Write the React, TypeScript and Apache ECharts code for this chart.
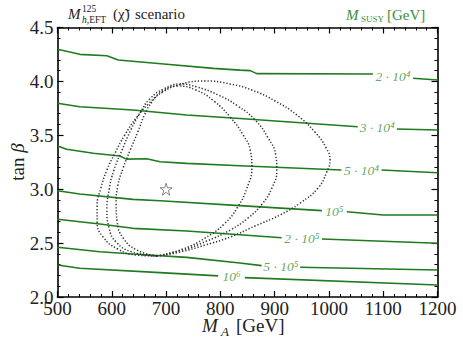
import React, { useEffect, useRef } from "react";
import * as echarts from "echarts";

// ---- axes ----
const X_MIN = 500;
const X_MAX = 1200;
const X_STEP = 100;
const Y_MIN = 2.0;
const Y_MAX = 4.5;
const Y_STEP = 0.5;

// ---- M_SUSY contour levels (labels) ----
const LEVEL_LABELS = ["2 · 10⁴", "3 · 10⁴", "5 · 10⁴", "10⁵", "2 · 10⁵", "5 · 10⁵", "10⁶"];

// ---- contour lines: [left segment, right segment] split at the label gap ----
const C_2E4 = [
  [[500, 4.298], [541, 4.251], [591, 4.238], [612, 4.199], [701, 4.159], [787, 4.121], [836, 4.105], [855, 4.1], [867, 4.072], [1081, 4.069]],
  [[1155, 4.029], [1200, 4.013]],
];
const C_3E4 = [
  [[500, 3.797], [541, 3.765], [639, 3.735], [738, 3.688], [836, 3.656], [1053, 3.58]],
  [[1125, 3.558], [1200, 3.549]],
];
const C_5E4 = [
  [[500, 3.401], [517, 3.37], [566, 3.333], [615, 3.308], [627, 3.279], [664, 3.283], [689, 3.255], [738, 3.24], [836, 3.218], [1023, 3.178]],
  [[1097, 3.178], [1200, 3.153]],
];
const C_1E5 = [
  [[500, 2.986], [541, 2.955], [639, 2.906], [689, 2.893], [836, 2.848], [987, 2.801]],
  [[1033, 2.791], [1100, 2.761], [1200, 2.761]],
];
const C_2E5 = [
  [[500, 2.721], [578, 2.677], [639, 2.637], [738, 2.612], [836, 2.578], [913, 2.55]],
  [[987, 2.538], [1200, 2.498]],
];
const C_5E5 = [
  [[500, 2.461], [578, 2.42], [639, 2.399], [738, 2.368], [836, 2.316], [876, 2.291]],
  [[947, 2.276], [1200, 2.251]],
];
const C_1E6 = [
  [[500, 2.297], [541, 2.266], [689, 2.226], [796, 2.196]],
  [[845, 2.18], [1200, 2.112]],
];
const CONTOURS = [C_2E4, C_3E4, C_5E4, C_1E5, C_2E5, C_5E5, C_1E6];

// ---- dotted closed regions ----
const LOOP_OUTER = [
  [683, 2.38], [726, 2.417], [772, 2.482], [818, 2.556], [864, 2.659], [910, 2.761], [947, 2.872], [980, 3.011],
  [996, 3.16], [1002, 3.271], [995, 3.382], [974, 3.531], [941, 3.688], [901, 3.818], [858, 3.92], [818, 3.976],
  [772, 4.004], [729, 3.976], [694, 3.902], [667, 3.79], [645, 3.661], [624, 3.503], [606, 3.336], [591, 3.178],
  [580, 3.011], [573, 2.844], [573, 2.696], [584, 2.557], [611, 2.445], [646, 2.389], [683, 2.38],
];
const LOOP_MIDDLE = [
  [683, 2.38], [731, 2.436], [775, 2.519], [818, 2.621], [851, 2.733], [877, 2.863], [895, 3.011], [904, 3.178],
  [902, 3.317], [888, 3.475], [864, 3.642], [832, 3.772], [796, 3.874], [757, 3.948], [726, 3.976], [696, 3.93],
  [670, 3.837], [652, 3.707], [635, 3.549], [619, 3.364], [604, 3.178], [595, 2.993], [591, 2.807], [595, 2.64],
  [608, 2.51], [637, 2.418], [683, 2.38],
];
const LOOP_INNER = [
  [683, 2.38], [731, 2.445], [772, 2.547], [807, 2.677], [832, 2.835], [849, 3.011], [858, 3.206], [855, 3.364],
  [842, 3.503], [818, 3.67], [788, 3.818], [755, 3.92], [722, 3.957], [694, 3.911], [674, 3.809], [661, 3.698],
  [648, 3.531], [634, 3.364], [621, 3.197], [611, 3.03], [608, 2.863], [610, 2.696], [621, 2.547], [646, 2.436],
  [683, 2.38],
];

// ---- benchmark point ----
const STAR_POINT = [700, 3.0];

const GREEN = "#1e7b1e";
const GREEN_TEXT = "#3a8f3a";
const FONT = '"Liberation Serif", "DejaVu Serif", serif';
const STAR_PATH =
  "path://M50,2 L61.2,36.5 L97.6,36.5 L68.2,57.9 L79.4,92.5 L50,71.1 L20.6,92.5 L31.8,57.9 L2.4,36.5 L38.8,36.5 Z";

function txt(text: string, x: number, y: number, size: number, opts: any = {}) {
  return {
    type: "text",
    x,
    y,
    silent: true,
    style: {
      text,
      fill: opts.color || "#222",
      font: `${opts.italic ? "italic " : ""}${size}px ${FONT}`,
      align: opts.align || "left",
      verticalAlign: "middle",
      rich: opts.rich,
    },
  };
}

export default function App() {
  const ref = useRef<HTMLDivElement>(null);

  useEffect(() => {
    if (!ref.current) return;
    const chart = echarts.init(ref.current, undefined, { renderer: "svg" });

    const series: any[] = [];
    CONTOURS.forEach((c) => {
      c.forEach((seg) => {
        series.push({
          type: "line",
          data: seg,
          showSymbol: false,
          silent: true,
          lineStyle: { color: GREEN, width: 1.6 },
          z: 2,
        });
      });
    });

    [LOOP_OUTER, LOOP_MIDDLE, LOOP_INNER].forEach((loop) => {
      series.push({
        type: "line",
        data: loop,
        smooth: 0.5,
        showSymbol: false,
        silent: true,
        lineStyle: { color: "#333", width: 1.5, type: [1.3, 1.9] },
        z: 3,
      });
    });

    series.push({
      type: "scatter",
      data: [STAR_POINT],
      symbol: STAR_PATH,
      symbolSize: 12,
      silent: true,
      itemStyle: { color: "#fff", borderColor: "#444", borderWidth: 0.8 },
      z: 4,
    });

    // contour labels placed at the middle of each gap
    const labelData = CONTOURS.map((c, i) => {
      const a = c[0][c[0].length - 1];
      const b = c[1][0];
      return { name: LEVEL_LABELS[i], value: [(a[0] + b[0]) / 2, (a[1] + b[1]) / 2] };
    });
    series.push({
      type: "scatter",
      data: labelData,
      symbolSize: 1,
      silent: true,
      itemStyle: { color: "rgba(0,0,0,0)" },
      label: {
        show: true,
        position: "inside",
        formatter: "{b}",
        color: GREEN_TEXT,
        fontSize: 13.5,
        fontStyle: "italic",
        fontFamily: FONT,
      },
      z: 5,
    });

    const axisLine = { show: true, lineStyle: { color: "#000", width: 1.6 } };
    const axisTick = { show: true, inside: true, length: 6, lineStyle: { color: "#000", width: 1.2 } };
    const minorTick = { show: true, splitNumber: 5, length: 3, lineStyle: { color: "#000", width: 1 } };
    const label = { color: "#222", fontSize: 19, fontFamily: FONT };

    const option: any = {
      animation: false,
      backgroundColor: "#fff",
      grid: { left: 57.5, right: 25.5, top: 27.5, bottom: 54, containLabel: false },
      xAxis: [
        {
          type: "value", min: X_MIN, max: X_MAX, interval: X_STEP, position: "bottom",
          axisLine, axisTick, minorTick, splitLine: { show: false },
          axisLabel: { ...label, margin: 2, formatter: (v: number) => String(v) },
        },
        {
          type: "value", min: X_MIN, max: X_MAX, interval: X_STEP, position: "top",
          axisLine, axisTick, minorTick, splitLine: { show: false }, axisLabel: { show: false },
        },
      ],
      yAxis: [
        {
          type: "value", min: Y_MIN, max: Y_MAX, interval: Y_STEP, position: "left",
          axisLine, axisTick, minorTick, splitLine: { show: false },
          axisLabel: { ...label, margin: 4, formatter: (v: number) => v.toFixed(1) },
        },
        {
          type: "value", min: Y_MIN, max: Y_MAX, interval: Y_STEP, position: "right",
          axisLine, axisTick, minorTick, splitLine: { show: false }, axisLabel: { show: false },
        },
      ],
      graphic: [
        // top-left title
        txt("M", 68, 14, 15, { italic: true }),
        txt("125", 82, 8.5, 9.5),
        txt("{i|h},EFT", 82, 19.5, 9.5, { rich: { i: { fontStyle: "italic", fontSize: 9.5, fontFamily: FONT } } }),
        txt("(χ̃)", 113, 14, 15),
        txt("scenario", 135, 14, 15),
        // top-right title
        txt("M", 346, 15, 15, { italic: true, color: GREEN_TEXT }),
        txt("SUSY", 361, 19, 9, { color: GREEN_TEXT }),
        txt("[GeV]", 387, 15, 15, { color: GREEN_TEXT }),
        // x-axis title
        txt("M", 202, 325, 19, { italic: true }),
        txt("A", 221, 331, 13, { italic: true }),
        txt("[GeV]", 236, 325, 19),
        // y-axis title
        {
          type: "text",
          x: 17,
          y: 162,
          rotation: Math.PI / 2,
          silent: true,
          style: {
            text: "tan {b|β}",
            fill: "#222",
            font: `19px ${FONT}`,
            align: "center",
            verticalAlign: "middle",
            rich: { b: { fontStyle: "italic", fontSize: 19, fontFamily: FONT } },
          },
        },
      ],
      series,
    };

    chart.setOption(option);
    return () => chart.dispose();
  }, []);

  return (
    <div
      ref={ref}
      style={{ position: "fixed", left: 0, top: 0, width: 463, height: 351, background: "#fff" }}
    />
  );
}
